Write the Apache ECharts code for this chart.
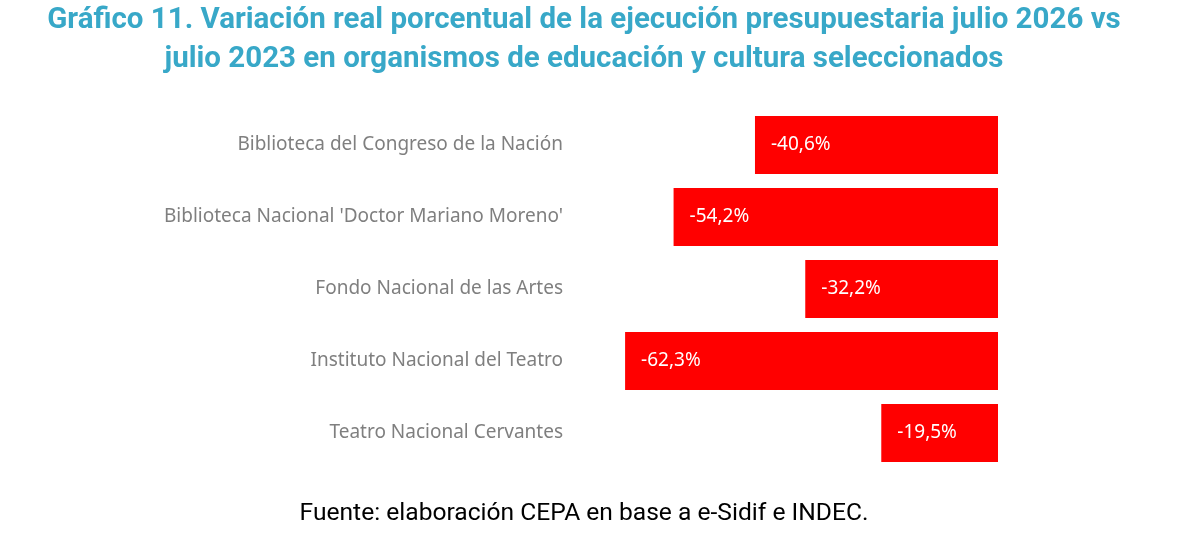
<!DOCTYPE html>
<html>
<head>
<meta charset="utf-8">
<script src="https://cdn.jsdelivr.net/npm/echarts@6/dist/echarts.min.js"></script>
<style>
  html, body { margin: 0; padding: 0; background: #ffffff; }
  #chart { width: 1180px; height: 545px; }
</style>
</head>
<body>
<div id="chart"></div>
<script>
// datos
const categorias = [
    'Biblioteca del Congreso de la Nación',
    "Biblioteca Nacional 'Doctor Mariano Moreno'",
    'Fondo Nacional de las Artes',
    'Instituto Nacional del Teatro',
    'Teatro Nacional Cervantes'
];
const variacion = [-40.6, -54.2, -32.2, -62.3, -19.5];
const titulo = [
    'Gráfico 11. Variación real porcentual de la ejecución presupuestaria julio 2026 vs',
    'julio 2023 en organismos de educación y cultura seleccionados'
];
const fuente = 'Fuente: elaboración CEPA en base a e-Sidif e INDEC.';

let estiloTitulo = {
    fontFamily: 'Roboto',
    fontWeight: 'bold',
    fontSize: 29.5,
    color: '#38a8c8'
};

let myChart = echarts.init(document.getElementById('chart'));
let option = {
    backgroundColor: '#ffffff',
    title: [
        {
            text: titulo[0],
            left: 584,
            top: 6,
            textAlign: 'center',
            padding: 0,
            textStyle: estiloTitulo
        },
        {
            text: titulo[1],
            left: 584,
            top: 45,
            textAlign: 'center',
            padding: 0,
            textStyle: estiloTitulo
        },
        {
            text: fuente,
            left: 584,
            top: 501,
            textAlign: 'center',
            padding: 0,
            textStyle: {
                fontFamily: 'Roboto',
                fontWeight: 'normal',
                fontSize: 24.6,
                color: '#000000'
            }
        }
    ],
    grid: {
        left: 579,
        right: 182,
        top: 109,
        bottom: 76
    },
    xAxis: {
        type: 'value',
        min: -70,
        max: 0,
        show: false
    },
    yAxis: {
        type: 'category',
        data: categorias,
        inverse: true,
        axisLine: { show: false },
        axisTick: { show: false },
        axisLabel: {
            margin: 16,
            padding: [4, 0, 0, 0],
            fontFamily: 'Noto Sans',
            fontSize: 19,
            color: '#7f7f7f'
        }
    },
    series: [{
        type: 'bar',
        data: variacion,
        barWidth: 58,
        itemStyle: { color: '#ff0000' },
        label: {
            show: true,
            position: 'insideLeft',
            distance: 16,
            padding: [5, 0, 0, 0],
            fontFamily: 'Noto Sans',
            fontSize: 19,
            color: '#ffffff',
            formatter: function (p) {
                return p.value.toFixed(1).replace('.', ',') + '%';
            }
        }
    }]
};
myChart.setOption(option);
</script>
</body>
</html>
